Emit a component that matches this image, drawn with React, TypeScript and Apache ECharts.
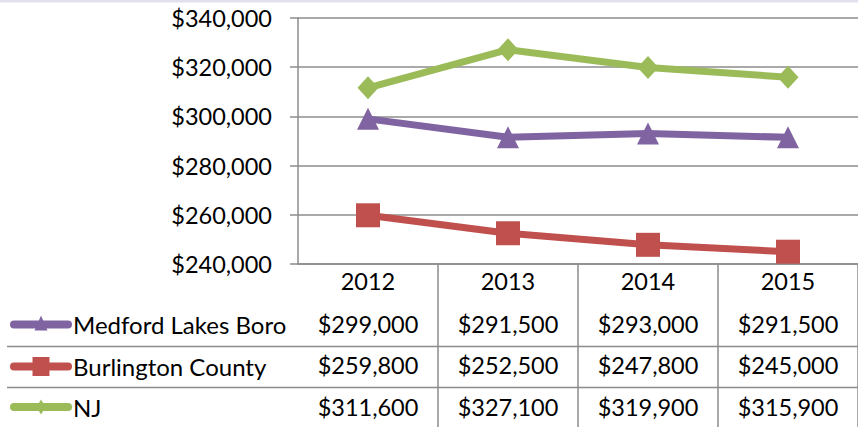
import React, { useEffect, useRef } from "react";
import * as echarts from "echarts";

const categories = ["2012", "2013", "2014", "2015"];
const seriesNames = ["Medford Lakes Boro", "Burlington County", "NJ"];
const medford = [299000, 291500, 293000, 291500];
const burlington = [259800, 252500, 247800, 245000];
const nj = [311600, 327100, 319900, 315900];
const yMin = 240000;
const yMax = 340000;
const yInterval = 20000;

const colors = ["#8064A2", "#C0504D", "#9BBB59"];
const symbols = ["triangle", "rect", "diamond"];
const symbolSizes: any[] = [[22, 22], 24, [21, 23]];
const FONT = "Lato";
const FS = 23.5;
const GRAY = "#8C8C8C";

const fmt = (v: number) => "$" + v.toLocaleString("en-US");

export default function App() {
  const ref = useRef<HTMLDivElement>(null);
  useEffect(() => {
    if (!ref.current) return;
    const chart = echarts.init(ref.current, null, { renderer: "svg" });
    const allSeries = [medford, burlington, nj];
    const rowOffsets = [43, 84, 126];
    const rowCenters = [324.5, 366.5, 407];

    const xAxes: any[] = [
      {
        type: "category",
        data: categories,
        position: "bottom",
        axisLine: { show: true, lineStyle: { color: GRAY, width: 1.5 } },
        axisTick: {
          show: true,
          length: 163,
          interval: (i: number) => i !== 0,
          lineStyle: { color: GRAY, width: 1.5 },
        },
        axisLabel: { fontSize: FS, margin: 5, color: "#000", fontFamily: FONT },
      },
    ];
    allSeries.forEach((vals, i) => {
      xAxes.push({
        type: "category",
        data: vals.map(fmt),
        position: "bottom",
        offset: rowOffsets[i],
        axisLine: { show: false },
        axisTick: { show: false },
        axisLabel: { fontSize: FS, margin: 5, color: "#000", fontFamily: FONT },
      });
    });

    const legends = seriesNames.map((name, i) => ({
      data: [name],
      left: 10,
      top: rowCenters[i] - 13,
      padding: 0,
      itemWidth: 58,
      itemHeight: 26,
      selectedMode: false,
      itemStyle: { opacity: 0 },
      lineStyle: { opacity: 0 },
      icon: "rect",
      textStyle: { fontSize: 24, color: "#000", fontFamily: FONT },
    }));

    const graphics: any[] = [
      { type: "rect", shape: { x: 0, y: 0, width: 858, height: 2.5 }, style: { fill: "#E4DFEC" }, silent: true },
      { type: "line", shape: { x1: 7, y1: 346.5, x2: 858, y2: 346.5 }, style: { stroke: GRAY, lineWidth: 1.5 }, silent: true },
      { type: "line", shape: { x1: 7, y1: 387.5, x2: 858, y2: 387.5 }, style: { stroke: GRAY, lineWidth: 1.5 }, silent: true },
    ];
    // legend keys: line with marker
    const mx = 41;
    rowCenters.forEach((cy, i) => {
      graphics.push({
        type: "line",
        shape: { x1: 14, y1: cy, x2: 68, y2: cy },
        style: { stroke: colors[i], lineWidth: 8, lineCap: "round" },
        silent: true,
      });
    });
    graphics.push({
      type: "polygon",
      shape: { points: [[mx, rowCenters[0] - 9], [mx + 6.5, rowCenters[0] + 6], [mx - 6.5, rowCenters[0] + 6]] },
      style: { fill: colors[0] },
      silent: true,
    });
    graphics.push({
      type: "rect",
      shape: { x: mx - 8.5, y: rowCenters[1] - 9.5, width: 17, height: 19 },
      style: { fill: colors[1] },
      silent: true,
    });
    graphics.push({
      type: "polygon",
      shape: { points: [[mx, rowCenters[2] - 7.5], [mx + 4.5, rowCenters[2]], [mx, rowCenters[2] + 7.5], [mx - 4.5, rowCenters[2]]] },
      style: { fill: colors[2] },
      silent: true,
    });

    chart.setOption({
      animation: false,
      backgroundColor: "#fff",
      color: colors,
      grid: { left: 298, right: -5, top: 18, bottom: 163, containLabel: false },
      xAxis: xAxes,
      yAxis: {
        type: "value",
        min: yMin,
        max: yMax,
        interval: yInterval,
        axisLine: { show: true, lineStyle: { color: GRAY, width: 1.5 } },
        axisTick: { show: true, length: 8, lineStyle: { color: GRAY, width: 1.5 } },
        splitLine: { show: true, lineStyle: { color: GRAY, width: 1.5 } },
        axisLabel: {
          fontSize: FS,
          margin: 26,
          color: "#000",
          fontFamily: FONT,
          formatter: (v: number) => fmt(v),
        },
      },
      legend: legends,
      graphic: graphics,
      series: allSeries.map((vals, i) => ({
        name: seriesNames[i],
        type: "line",
        data: vals,
        xAxisIndex: 0,
        symbol: symbols[i],
        symbolSize: symbolSizes[i],
        showAllSymbol: true,
        lineStyle: { width: 7, color: colors[i] },
        itemStyle: { color: colors[i] },
      })),
    });
    return () => chart.dispose();
  }, []);
  return (
    <div
      ref={ref}
      style={{ position: "fixed", left: 0, top: 0, width: 858, height: 427 }}
    />
  );
}
